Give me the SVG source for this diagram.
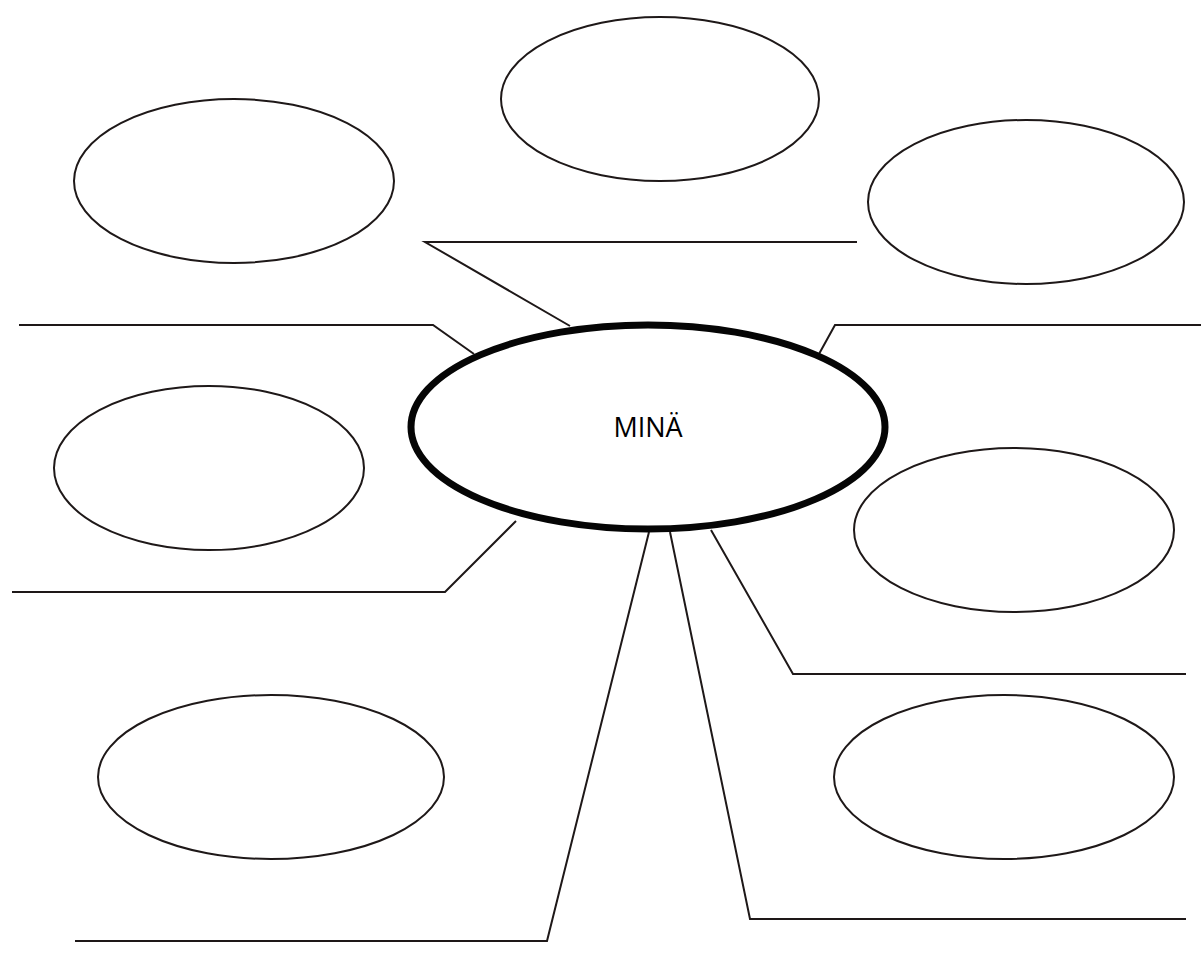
<svg xmlns="http://www.w3.org/2000/svg" width="1201" height="958" viewBox="0 0 1201 958">
<style>
.bg{fill:#ffffff}
.conn{fill:none;stroke:#1e1818;stroke-width:2;stroke-linejoin:miter}
.leaf{fill:none;stroke:#1e1818;stroke-width:2}
.center{fill:#ffffff;stroke:#050505;stroke-width:7}
.lbl{font-family:"Open Sans","Liberation Sans",sans-serif;font-size:27px;fill:#000000;text-anchor:middle}
</style>
<rect class="bg" x="0" y="0" width="1201" height="958"/>
<g id="connectors">
<polyline class="conn" points="857,242 425,242 570,326"/>
<polyline class="conn" points="19,325 433,325 474,354"/>
<polyline class="conn" points="1201,325 835,325 819,354"/>
<polyline class="conn" points="12,592 445,592 516,521"/>
<polyline class="conn" points="711,530 793,674 1186,674"/>
<polyline class="conn" points="649,532 547,941 75,941"/>
<polyline class="conn" points="670,532 750,919 1186,919"/>
</g>
<g id="node-center">
<ellipse class="center" cx="648" cy="427" rx="237" ry="102"/>
<text class="lbl" x="648" y="437">MINÄ</text>
</g>
<g id="node-top-left"><ellipse class="leaf" cx="234" cy="181" rx="160" ry="82"/></g>
<g id="node-top"><ellipse class="leaf" cx="660" cy="99" rx="159" ry="82"/></g>
<g id="node-top-right"><ellipse class="leaf" cx="1026" cy="202" rx="158" ry="82"/></g>
<g id="node-left"><ellipse class="leaf" cx="209" cy="468" rx="155" ry="82"/></g>
<g id="node-right"><ellipse class="leaf" cx="1014" cy="530" rx="160" ry="82"/></g>
<g id="node-bottom-left"><ellipse class="leaf" cx="271" cy="777" rx="173" ry="82"/></g>
<g id="node-bottom-right"><ellipse class="leaf" cx="1004" cy="777" rx="170" ry="82"/></g>
</svg>
